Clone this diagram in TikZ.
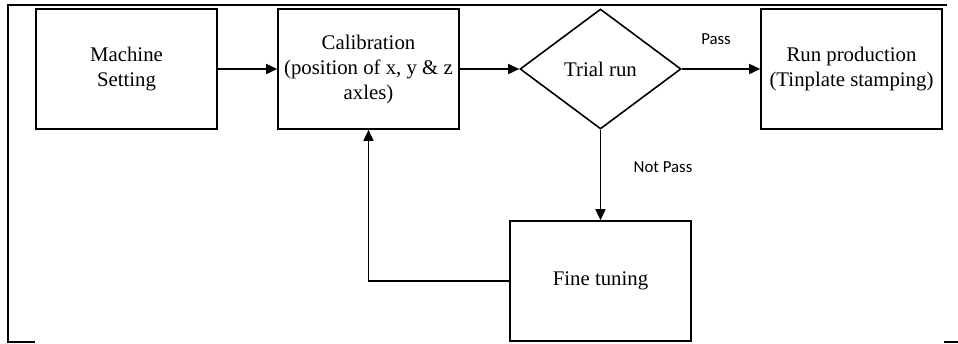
\documentclass[tikz,border=0pt]{standalone}
\usepackage{fontspec}
\setmainfont{Liberation Serif}
\newfontfamily\labelfont{Carlito}
\usetikzlibrary{shapes.geometric,arrows.meta}

\tikzset{
  stepbox/.style={draw=black, line width=1.6pt, rectangle, minimum width=181pt,
    minimum height=120pt, inner sep=0pt, align=center,
    font=\fontsize{20.8}{25}\selectfont},
  decision/.style={draw=black, line width=1.6pt, diamond, aspect=1.34,
    minimum width=161pt, minimum height=120pt, inner sep=0pt, align=center,
    font=\fontsize{20.8}{25}\selectfont},
  flow/.style={draw=black, line width=1.6pt,
    -{Triangle[length=11pt,width=10pt]}},
  edgelabel/.style={font=\labelfont\fontsize{16.8}{19}\selectfont, inner sep=0pt},
  frameline/.style={draw=black, line width=2pt}
}

\begin{document}
\begin{tikzpicture}[x=1pt,y=-1pt]
  \useasboundingbox (0,0) rectangle (958,343);

  % partial outer frame
  \coordinate (f1) at (35,342);
  \coordinate (f2) at (8,342);
  \coordinate (f3) at (8,5);
  \coordinate (f4) at (947,5);
  \coordinate (f5) at (944,342);
  \coordinate (f6) at (958,342);
  \draw[frameline] (f1) -- (f2) -- (f3) -- (f4);
  \draw[frameline] (f5) -- (f6);

  % process steps
  \node[stepbox] (ms) at (126.5,69) {Machine\\Setting};
  \node[stepbox] (cal) at (368.5,69) {Calibration\\(position of x, y \& z\\axles)};
  \node[decision] (trial) at (600.5,69) {Trial run};
  \node[stepbox] (run) at (851.5,69) {Run production\\(Tinplate stamping)};
  \node[stepbox] (fine) at (600.5,281) {Fine tuning};

  % connectors
  \draw[flow] (ms) -- (cal);
  \draw[flow] (cal) -- (trial);
  \draw[flow] (trial) -- (run);
  \draw[flow] (trial) -- (fine);
  \draw[flow] (fine.west) -| (cal.south);

  % branch labels
  \node[edgelabel] (lpass) at (716,39) {Pass};
  \node[edgelabel] (lnot) at (663,167) {Not Pass};
\end{tikzpicture}
\end{document}
